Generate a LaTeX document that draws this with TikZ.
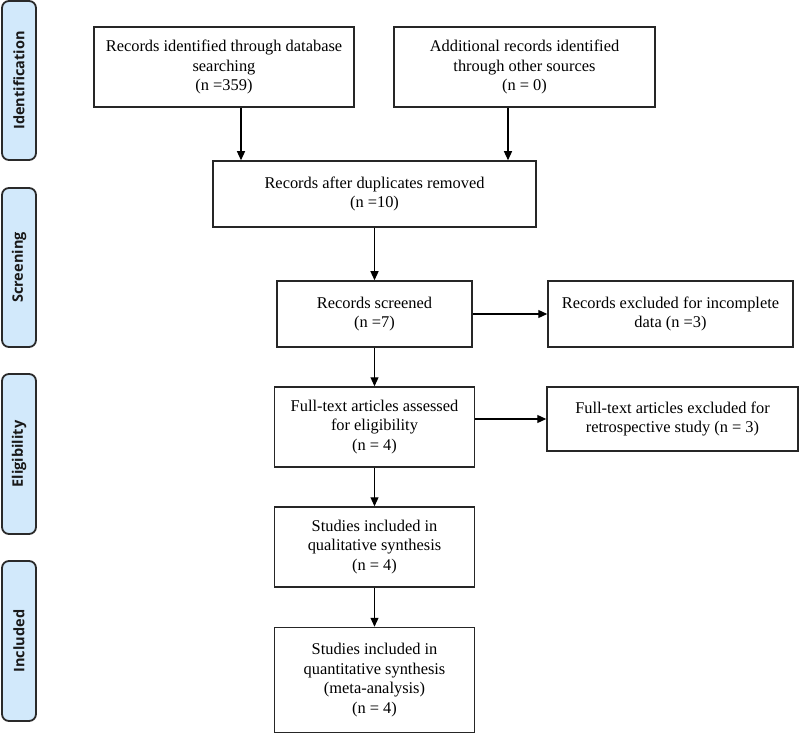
\documentclass[tikz,border=0pt]{standalone}
\usepackage{fontspec}
\setmainfont{Liberation Serif}
\newfontfamily\sidefont{Open Sans}
\usetikzlibrary{arrows.meta,calc}
\definecolor{sidefill}{HTML}{D2E9FB}
\definecolor{sidedraw}{HTML}{2A2A2A}
\tikzset{
  box/.style={draw=black!85, line width=1.5pt, align=center, inner sep=0pt,
    font=\fontsize{16.4pt}{19.5pt}\selectfont},
  side/.style={draw=sidedraw, fill=sidefill, line width=1.8pt, rounded corners=7pt,
    minimum width=34pt, inner sep=0pt},
  sidelabel/.style={rotate=90, font=\sidefont\bfseries\fontsize{14.5pt}{18pt}\selectfont, text=black!90},
  arr/.style={line width=1.2pt, -{Triangle[length=9pt,width=8pt]}}
}
\begin{document}
\begin{tikzpicture}[x=1pt,y=-1pt]
\useasboundingbox (0,0) rectangle (800,735);
% side bars
\node[side, minimum height=159pt] (s1) at (19,80.5) {};
\node[sidelabel] (l1) at (s1.center) {Identification};
\node[side, minimum height=159pt] (s2) at (19,267.5) {};
\node[sidelabel] (l2) at (s2.center) {Screening};
\node[side, minimum height=160pt] (s3) at (19,454) {};
\node[sidelabel] (l3) at (s3.center) {Eligibility};
\node[side, minimum height=160pt] (s4) at (19,641) {};
\node[sidelabel] (l4) at (s4.center) {Included};
% boxes
\node[box, minimum width=260pt, minimum height=80pt] (b1) at (224,67)
  {Records identified through database\\searching\\(n =359)};
\node[box, minimum width=261pt, minimum height=80pt] (b2) at (524.5,67)
  {Additional records identified\\through other sources\\(n = 0)};
\node[box, minimum width=323pt, minimum height=66pt] (b3) at (374.5,194)
  {Records after duplicates removed\\(n =10)};
\node[box, minimum width=195pt, minimum height=66pt] (b4) at (374.5,314)
  {Records screened\\(n =7)};
\node[box, minimum width=245pt, minimum height=66pt] (e1) at (670.5,314)
  {Records excluded for incomplete\\data (n =3)};
\node[box, minimum width=200pt, minimum height=80pt] (b5) at (374.5,427)
  {Full-text articles assessed\\for eligibility\\(n = 4)};
\node[box, minimum width=251pt, minimum height=64pt] (e2) at (672.5,419)
  {Full-text articles excluded for\\retrospective study (n = 3)};
\node[box, minimum width=200pt, minimum height=80pt] (b6) at (374.5,547)
  {Studies included in\\qualitative synthesis\\(n = 4)};
\node[box, minimum width=200pt, minimum height=105pt] (b7) at (374.5,680)
  {Studies included in\\quantitative synthesis\\(meta-analysis)\\(n = 4)};
% connectors
\coordinate (x1) at (241,0);
\coordinate (x2) at (508,0);
\draw[arr] (b1.south -| x1) -- (b3.north -| x1);
\draw[arr] (b2.south -| x2) -- (b3.north -| x2);
\draw[arr] (b3.south -| b4.north) -- (b4.north);
\draw[arr] (b4.east) -- (e1.west);
\draw[arr] (b4.south) -- (b5.north);
\draw[arr] (b5.east |- e2.west) -- (e2.west);
\draw[arr] (b5.south) -- (b6.north);
\draw[arr] (b6.south) -- (b7.north);
\end{tikzpicture}
\end{document}
